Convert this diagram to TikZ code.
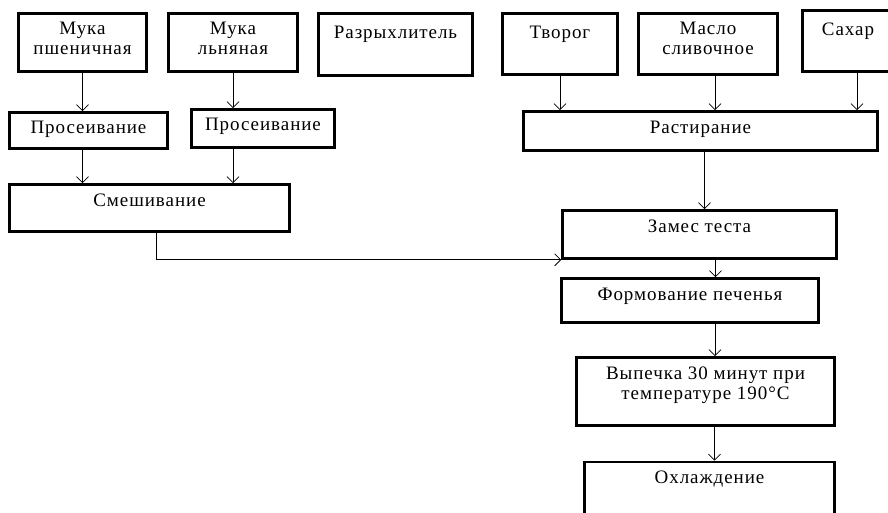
\documentclass[tikz,border=0pt]{standalone}
\usepackage{fontspec}
\setmainfont{Liberation Serif}[LetterSpace=5]
\usetikzlibrary{arrows.meta,calc,positioning}
\newcommand{\boxtext}[4][7pt]{\parbox[c][#3pt][t]{#2pt}{\centering\vspace*{#1}\strut #4}}

\begin{document}
\begin{tikzpicture}[x=1pt,y=-1pt,>={Straight Barb[length=6pt,width=12pt]},
	stage/.style={draw,line width=2.6pt,inner sep=0pt,font=\fontsize{19}{20}\selectfont},
	flow/.style={->,line width=0.8pt}]
	\useasboundingbox (0,0) rectangle (888,513);
	\clip (0,0) rectangle (888,513);
	
	\node[stage] (wheat) at (82.5,42.5) {\boxtext{128}{58}{Мука\\пшеничная}};
	\node[stage] (flax) at (233,42.5) {\boxtext{129}{58}{Мука\\льняная}};
	\node[stage] (powder) at (395.5,44.5) {\boxtext[11pt]{154}{62}{Разрыхлитель}};
	\node[stage] (curd) at (560,44) {\boxtext[11pt]{115}{61}{Творог}};
	\node[stage] (butter) at (708,44) {\boxtext{139}{61}{Масло\\сливочное}};
	\node[stage] (sugar) at (848,41) {\boxtext[11pt]{91}{61}{Сахар}};
	
	\node[stage] (sift1) at (88.5,130.5) {\boxtext{158}{36}{Просеивание}};
	\node[stage] (sift2) at (263,128.5) {\boxtext{143}{38}{Просеивание}};
	\node[stage] (grind) at (700.5,131) {\boxtext[8pt]{354}{39}{Растирание}};
	
	\node[stage] (mix) at (149.5,208) {\boxtext[8pt]{280}{47}{Смешивание}};
	\node[stage] (dough) at (699.5,234.5) {\boxtext[8pt]{274}{48}{Замес теста}};
	\node[stage] (form) at (690,300.5) {\boxtext[8pt]{257}{44}{Формование печенья}};
	\node[stage] (bake) at (705.5,391.5) {\boxtext[8pt]{258}{68}{Выпечка 30 минут при\\температуре 190°C}};
	\node[stage] (cool) at (709.5,497) {\boxtext{250}{70}{Охлаждение}};
	
	\draw[flow] (wheat) -- (wheat |- sift1.north);
	\draw[flow] (flax) -- (flax |- sift2.north);
	\draw[flow] (sift1.south -| wheat) -- (mix.north -| wheat);
	\draw[flow] (sift2.south -| flax) -- (mix.north -| flax);
	
	\draw[flow] (curd) -- (curd |- grind.north);
	\draw[flow] ([xshift=7pt]butter.south) -- ([xshift=7pt]butter.south |- grind.north);
	\draw[flow] ([xshift=9pt]sugar.south) -- ([xshift=9pt]sugar.south |- grind.north);
	\draw[flow] ([xshift=4pt]grind.south) -- ([xshift=4pt]grind.south |- dough.north);
	
	\draw[flow] ([xshift=7pt]mix.south) |- (dough.south west);
	\draw[flow] ([xshift=16pt]dough.south) -- ([xshift=16pt]dough.south |- form.north);
	\draw[flow] ([xshift=25pt]form.south) -- ([xshift=25pt]form.south |- bake.north);
	\draw[flow] ([xshift=9pt]bake.south) -- ([xshift=9pt]bake.south |- cool.north);
\end{tikzpicture}
\end{document}
